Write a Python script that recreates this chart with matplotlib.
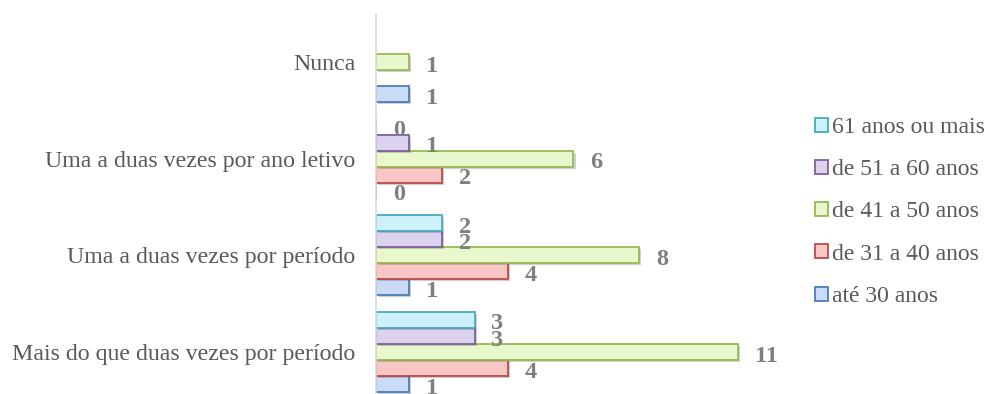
import matplotlib
matplotlib.use("Agg")
import matplotlib.pyplot as plt
import numpy as np
from matplotlib.patches import Patch
import matplotlib.patheffects as pe

categories = ["Mais do que duas vezes por período", "Uma a duas vezes por período",
              "Uma a duas vezes por ano letivo", "Nunca"]
series = ["até 30 anos", "de 31 a 40 anos", "de 41 a 50 anos", "de 51 a 60 anos", "61 anos ou mais"]
ate30 = [1, 1, 0, 1]
de31_40 = [4, 4, 2, None]
de41_50 = [11, 8, 6, 1]
de51_60 = [3, 2, 1, None]
mais61 = [3, 2, 0, None]
values = [ate30, de31_40, de41_50, de51_60, mais61]

fills = ["#c9dbf6", "#f8c6c5", "#e8f8cc", "#ddd2ed", "#ccf1fb"]
edges = ["#4a7ebb", "#be4b48", "#98b954", "#7d60a0", "#46aac5"]

plt.rcParams['font.family'] = ['Liberation Serif', 'DejaVu Serif']

fig = plt.figure(figsize=(9.87, 3.94), dpi=100)
ax = fig.add_axes([0.381, 0.0, 0.40, 0.965])

h = 0.166
y = np.arange(len(categories))
for i, (vals, fc, ec) in enumerate(zip(values, fills, edges)):
    off = (i - 2) * h
    for j, v in enumerate(vals):
        if v is None:
            continue
        ax.barh(y[j] + off, v, height=h, color=fc, edgecolor=ec, linewidth=1.3,
                path_effects=[pe.SimplePatchShadow(offset=(1.5, -1.5), alpha=0.25), pe.Normal()])
        ax.annotate(str(v), xy=(v, y[j] + off), xytext=(12, -3), textcoords="offset points",
                    ha="left", va="center", fontsize=17.5, fontweight="bold", color="#7f7f7f")

ax.set_xlim(0, 12)
ax.set_ylim(-0.436, 3.5)
ax.set_yticks(y)
ax.set_yticklabels(categories, fontsize=17.2, color="#595959")
ax.tick_params(axis='y', length=0, pad=15)
ax.set_xticks([])
for s in ["top", "right", "bottom"]:
    ax.spines[s].set_visible(False)
ax.spines["left"].set_color("#d9d9d9")
ax.spines["left"].set_linewidth(1.2)

handles = [Patch(facecolor=fills[i], edgecolor=edges[i], linewidth=1.3, label=series[i]) for i in range(4, -1, -1)]
leg = fig.legend(handles=handles, loc="center left", bbox_to_anchor=(0.826, 0.462), frameon=False,
                 fontsize=17, labelspacing=0.9, handlelength=0.55, handleheight=0.55, handletextpad=0.15,
                 borderaxespad=0, borderpad=0)
for t in leg.get_texts():
    t.set_color("#595959")

fig.savefig("out.png", dpi=100)
